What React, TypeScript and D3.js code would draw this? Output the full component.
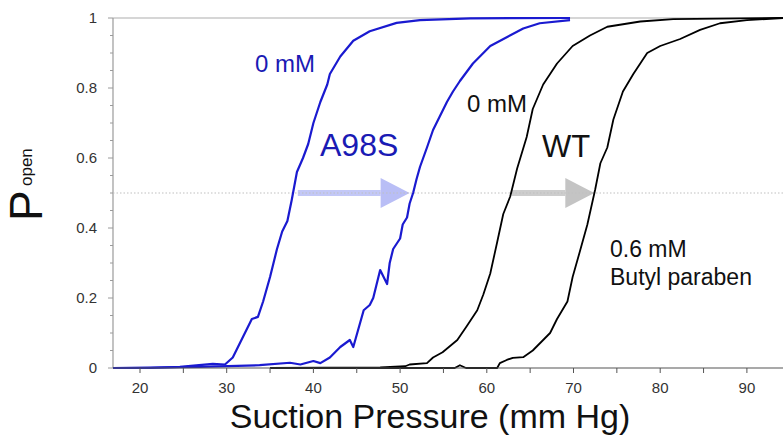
import React from "react";
import * as d3 from "d3";

// ---- data ----
const a98sCtrlPressure = [16.9, 21.2, 24.6, 28.4, 29.8, 30.7, 31.5, 32.3, 32.9, 33.6, 34.2, 35.0, 35.8, 36.4, 37.0, 37.5, 38.1, 38.8, 39.4, 40.0, 40.8, 41.6, 41.9, 43.1, 44.6, 46.5, 49.6, 52.3, 58.1, 69.6];
const a98sCtrlPopen = [0, 0, 0.003, 0.012, 0.01, 0.03, 0.07, 0.11, 0.14, 0.146, 0.19, 0.26, 0.34, 0.39, 0.42, 0.48, 0.56, 0.6, 0.64, 0.7, 0.76, 0.81, 0.84, 0.89, 0.935, 0.962, 0.986, 0.994, 0.999, 1.0];

const a98sDrugPressure = [16.9, 26.9, 33.8, 37.3, 38.5, 40.0, 40.8, 41.9, 43.1, 44.2, 44.6, 45.4, 45.8, 46.5, 46.9, 47.7, 48.5, 48.8, 49.2, 50.0, 50.3, 50.8, 51.1, 51.5, 51.9, 52.3, 53.1, 53.8, 54.6, 55.4, 56.1, 56.9, 58.4, 60.4, 62.3, 64.2, 66.1, 69.6];
const a98sDrugPopen = [0, 0.003, 0.008, 0.015, 0.01, 0.02, 0.014, 0.03, 0.06, 0.08, 0.06, 0.13, 0.165, 0.18, 0.2, 0.28, 0.24, 0.3, 0.34, 0.37, 0.41, 0.43, 0.47, 0.5, 0.54, 0.575, 0.63, 0.68, 0.72, 0.76, 0.79, 0.82, 0.87, 0.92, 0.945, 0.97, 0.985, 0.994];

const wtCtrlPressure = [35.0, 47.7, 50.6, 51.1, 53.1, 53.8, 54.9, 56.6, 57.7, 58.9, 59.6, 60.4, 61.2, 61.9, 62.7, 63.5, 64.6, 65.3, 66.5, 68.1, 69.9, 71.9, 73.9, 77.7, 81.5, 94.2];
const wtCtrlPopen = [0, 0.002, 0.005, 0.01, 0.014, 0.03, 0.045, 0.08, 0.12, 0.165, 0.21, 0.27, 0.36, 0.44, 0.49, 0.57, 0.66, 0.74, 0.81, 0.87, 0.92, 0.95, 0.975, 0.99, 0.997, 1.0];

const wtDrugPressure = [35.0, 56.3, 56.9, 57.6, 61.2, 61.5, 62.3, 63.0, 64.2, 65.3, 66.5, 67.3, 68.1, 69.3, 69.9, 70.7, 71.6, 72.5, 73.1, 73.9, 74.6, 75.7, 76.9, 78.5, 80.0, 82.3, 84.6, 86.9, 90.0, 94.2];
const wtDrugPopen = [0, 0, 0.008, 0, 0, 0.014, 0.023, 0.029, 0.031, 0.05, 0.08, 0.1, 0.14, 0.19, 0.26, 0.33, 0.41, 0.51, 0.585, 0.63, 0.71, 0.79, 0.84, 0.9, 0.92, 0.94, 0.966, 0.985, 0.994, 1.0];

const xTickValues = [20, 30, 40, 50, 60, 70, 80, 90];
const xMinorTickValues = [20, 25, 30, 35, 40, 45, 50, 55, 60, 65, 70, 75, 80, 85, 90];
const yTickValues = [0, 0.2, 0.4, 0.6, 0.8, 1];
const yMinorTickValues = [0, 0.05, 0.1, 0.15, 0.2, 0.25, 0.3, 0.35, 0.4, 0.45, 0.5, 0.55, 0.6, 0.65, 0.7, 0.75, 0.8, 0.85, 0.9, 0.95, 1];

// shift arrows: P50 of control -> P50 with drug
const arrowFrom = [38.2, 62.9];
const arrowTo = [51.1, 72.4];

const W = 783;
const H = 436;
const FONT = "'Liberation Sans', Arial, Helvetica, sans-serif";

export default function App() {
  const x = d3.scaleLinear().domain([20, 90]).range([140, 746.9]);
  const y = d3.scaleLinear().domain([0, 1]).range([368, 18]);
  const x0 = 113;
  const x1 = W;

  const line = d3
    .line<[number, number]>()
    .x((d) => x(d[0]))
    .y((d) => y(d[1]));

  const zip = (a: number[], b: number[]) => a.map((v, i) => [v, b[i]] as [number, number]);

  const series = [
    { d: zip(a98sCtrlPressure, a98sCtrlPopen), color: "#1a1ad0", w: 2.2 },
    { d: zip(a98sDrugPressure, a98sDrugPopen), color: "#1a1ad0", w: 2.2 },
    { d: zip(wtCtrlPressure, wtCtrlPopen), color: "#000", w: 1.8 },
    { d: zip(wtDrugPressure, wtDrugPopen), color: "#000", w: 1.8 },
  ];

  const arrowColors = ["#b9bef6", "#c4c4c4"];
  const yMid = y(0.5);

  return (
    <svg
      width={W}
      height={H}
      style={{ position: "absolute", left: 0, top: 0, background: "#fff" }}
      fontFamily={FONT}
    >
      <rect width={W} height={H} fill="#fff" />
      {/* top frame line */}
      <line x1={x0} x2={x1} y1={y(1)} y2={y(1)} stroke="#c8c8c8" strokeWidth={1.5} />
      {/* y axis */}
      <line x1={x0} x2={x0} y1={y(1)} y2={y(0)} stroke="#9a9a9a" strokeWidth={1.2} />
      {yMinorTickValues.map((v) => (
        <line key={"ym" + v} x1={x0 - (yTickValues.includes(v) ? 5 : 3)} x2={x0} y1={y(v)} y2={y(v)} stroke="#9a9a9a" strokeWidth={1} />
      ))}
      {yTickValues.map((v) => (
        <text key={"yl" + v} x={97} y={y(v) + 5} textAnchor="end" fontSize={15} fill="#333">
          {v === 0 ? "0" : v === 1 ? "1" : v.toFixed(1)}
        </text>
      ))}

      {/* arrows */}
      {arrowFrom.map((f, i) => {
        const xs = x(f);
        const xe = x(arrowTo[i]);
        const head = 29;
        return (
          <g key={"ar" + i} fill={arrowColors[i]}>
            <rect x={xs} y={yMid - 3} width={xe - head - xs} height={6} opacity={0.85} />
            <polygon points={`${xe - head},${yMid - 15} ${xe},${yMid} ${xe - head},${yMid + 15}`} />
          </g>
        );
      })}

      {/* dotted 0.5 line */}
      <line x1={x0} x2={x1} y1={yMid} y2={yMid} stroke="#c0c0c0" strokeWidth={1.2} strokeDasharray="1.5,2" />

      {/* curves */}
      {series.map((s, i) => (
        <path key={"s" + i} d={line(s.d) || ""} fill="none" stroke={s.color} strokeWidth={s.w} strokeLinejoin="round" />
      ))}

      {/* x axis */}
      <line x1={x0} x2={x1} y1={y(0)} y2={y(0)} stroke="#555" strokeWidth={1.2} />
      {xMinorTickValues.map((v) => (
        <line key={"xm" + v} x1={x(v)} x2={x(v)} y1={y(0)} y2={y(0) + 5} stroke="#555" strokeWidth={1} />
      ))}
      {xTickValues.map((v) => (
        <text key={"xl" + v} x={x(v)} y={393} textAnchor="middle" fontSize={15} fill="#333">
          {v}
        </text>
      ))}

      {/* axis titles */}
      <text x={430} y={428} textAnchor="middle" fontSize={34} fill="#111">
        Suction Pressure (mm Hg)
      </text>
      <text transform="translate(42,221) rotate(-90)" fontSize={46} fill="#111">
        P
      </text>
      <text transform="translate(32,186) rotate(-90)" fontSize={17} fill="#111">
        open
      </text>

      {/* annotations */}
      <text x={255} y={72} fontSize={24} fill="#1a1ab4">0 mM</text>
      <text x={320} y={156} fontSize={32} fill="#1a1ab4">A98S</text>
      <text x={467} y={112} fontSize={24} fill="#111">0 mM</text>
      <text x={542} y={157} fontSize={31} fill="#111">WT</text>
      <text x={610} y={257} fontSize={23} fill="#111">0.6 mM</text>
      <text x={610} y={285} fontSize={23} fill="#111">Butyl paraben</text>
    </svg>
  );
}
